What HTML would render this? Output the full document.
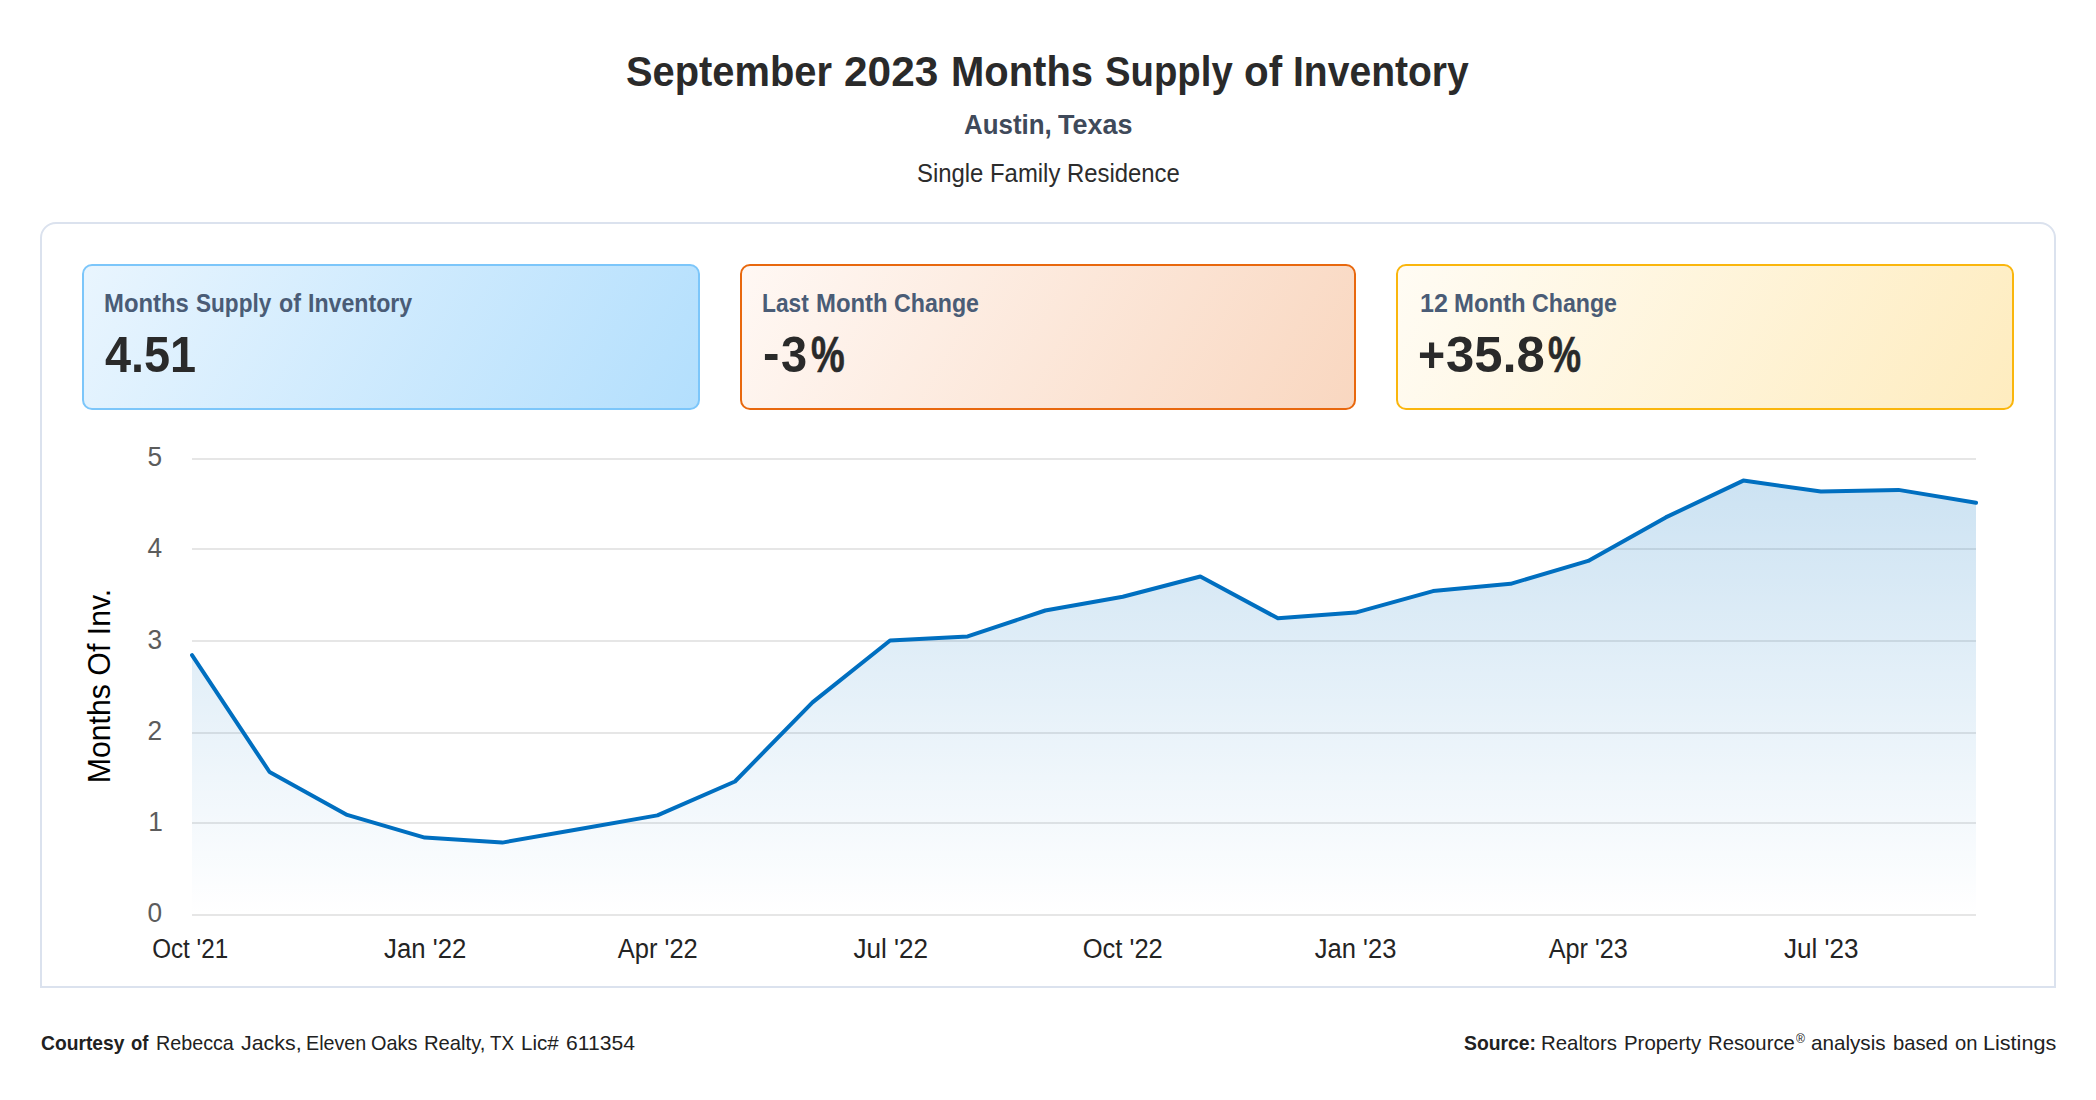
<!DOCTYPE html>
<html lang="en">
<head>
<meta charset="utf-8">
<title>September 2023 Months Supply of Inventory</title>
<style>
html,body{margin:0;padding:0;background:#fff;}
body{width:2096px;height:1100px;position:relative;overflow:hidden;font-family:"Liberation Sans", Arial, sans-serif;}
h1,h2,p,.label,.value{margin:0;padding:0;font-style:normal;}
.t{position:absolute;white-space:nowrap;line-height:normal;}
.w{display:inline-block;position:relative;white-space:pre;line-height:normal;transform-origin:0 0;margin:0;padding:0;font-weight:inherit;vertical-align:baseline;}
b.w{font-weight:700;}
.panel{position:absolute;left:40px;top:222px;width:2012px;height:762px;border:2px solid #dbe2ee;border-radius:16px 16px 0 0;background:#fff;}
.card{position:absolute;top:264px;height:142px;border:2px solid;border-radius:10px;}
.c1{left:82px;width:614px;border-color:#7cc6fa;background:linear-gradient(120deg,#e9f5fe 0%,#b3dffd 100%);}
.c2{left:740px;width:612px;border-color:#e8680e;background:linear-gradient(120deg,#fff8f4 0%,#f9d7c0 100%);}
.c3{left:1396px;width:614px;border-color:#fab60d;background:linear-gradient(120deg,#fffcf4 0%,#feecbf 100%);}
.chart{position:absolute;left:0;top:0;}
.chart text{font-family:"Liberation Sans", Arial, sans-serif;}
.yl text{font-size:26.8px;fill:#5c5c5c;}
.xl text{font-size:26.8px;fill:#242424;}
.yt{font-size:30.6px;fill:#000;}
h1{font-size:43px;font-weight:700;color:#2a2a2a;}
h2{font-size:28.2px;font-weight:700;color:#3f4a5a;}
.ptype{font-size:25.6px;font-weight:400;color:#2c2c2c;}
.label{font-size:25px;font-weight:700;color:#4a5c76;}
.value{font-size:50.6px;font-weight:700;color:#2a2a2a;}
footer p{font-size:21px;font-weight:400;color:#212121;}
</style>
</head>
<body>
<header>
<h1 class="t" style="left:626.37px;top:47.00px"><span class="w" style="width:218.14px;transform:scaleX(0.9264)">September </span><span class="w" style="width:106.73px;transform:scaleX(0.9857)">2023 </span><span class="w" style="width:153.67px;transform:scaleX(0.9291)">Months </span><span class="w" style="width:138.65px;transform:scaleX(0.8910)">Supply </span><span class="w" style="width:49.92px;transform:scaleX(0.9388)">of </span><span class="w" style="width:175.74px;transform:scaleX(0.9080)">Inventory </span></h1>
<h2 class="t" style="left:964.10px;top:107.80px"><span class="w" style="width:94.10px;transform:scaleX(0.9190)">Austin, </span><span class="w" style="width:74.45px;transform:scaleX(0.9565)">Texas </span></h2>
<p class="t ptype" style="left:916.67px;top:158.90px"><span class="w" style="width:262.85px;transform:scaleX(0.9332)">Single Family Residence </span></p>
</header>
<main>
<div class="panel"></div>
<section class="card c1"><div class="t label" style="left:20.05px;top:22.70px"><span class="w" style="width:91.95px;transform:scaleX(0.9544)">Months </span><span class="w" style="width:82.80px;transform:scaleX(0.9037)">Supply </span><span class="w" style="width:29.37px;transform:scaleX(0.9312)">of </span><span class="w" style="width:104.24px;transform:scaleX(0.9264)">Inventory </span></div><div class="t value" style="left:20.90px;top:59.00px"><span class="w" style="width:91.15px;transform:scaleX(0.9257)">4.51 </span></div></section>
<section class="card c2"><div class="t label" style="left:19.59px;top:22.70px"><span class="w" style="width:54.85px;transform:scaleX(0.9104)">Last </span><span class="w" style="width:77.53px;transform:scaleX(0.9561)">Month </span><span class="w" style="width:84.94px;transform:scaleX(0.9265)">Change </span></div><div class="t value" style="left:20.72px;top:59.00px"><span class="w" style="width:18.35px;transform:scaleX(0.9786);top:-2.40px">-</span><span class="w" style="width:29.58px;transform:scaleX(0.9269)">3</span><span class="w" style="width:33.69px;transform:scaleX(0.7488);-webkit-text-stroke:0.6px currentColor">% </span></div></section>
<section class="card c3"><div class="t label" style="left:21.50px;top:22.70px"><span class="w" style="width:34.65px;transform:scaleX(1.0037)">12 </span><span class="w" style="width:77.53px;transform:scaleX(0.9561)">Month </span><span class="w" style="width:84.94px;transform:scaleX(0.9265)">Change </span></div><div class="t value" style="left:20.06px;top:59.00px"><span class="w" style="width:28.23px;transform:scaleX(0.9192)">+</span><span class="w" style="width:101.67px;transform:scaleX(1.0038)">35.8</span><span class="w" style="width:33.06px;transform:scaleX(0.7349);-webkit-text-stroke:0.6px currentColor">% </span></div></section>
<svg class="chart" width="2096" height="1100" viewBox="0 0 2096 1100" role="img" aria-label="Months of inventory, Oct 2021 to Sep 2023">
<defs><linearGradient id="ag" gradientUnits="userSpaceOnUse" x1="0" y1="480.6" x2="0" y2="915"><stop offset="0" stop-color="#0070c0" stop-opacity="0.2"/><stop offset="1" stop-color="#0070c0" stop-opacity="0"/></linearGradient></defs>
<g class="grid">
<rect x="192" y="458" width="1784" height="2" fill="#e6e6e6"/>
<rect x="192" y="548" width="1784" height="2" fill="#e6e6e6"/>
<rect x="192" y="640" width="1784" height="2" fill="#e6e6e6"/>
<rect x="192" y="732" width="1784" height="2" fill="#e6e6e6"/>
<rect x="192" y="822" width="1784" height="2" fill="#e6e6e6"/>
<rect x="192" y="914" width="1784" height="2" fill="#e6e6e6"/>
</g>
<path class="area" d="M192.00 655.10 L269.57 772.00 L347.13 814.90 L424.70 837.60 L502.26 842.60 L579.83 829.00 L657.39 815.40 L734.96 781.50 L812.52 702.40 L890.09 640.50 L967.65 636.40 L1045.22 610.50 L1122.78 596.80 L1200.35 576.50 L1277.91 618.30 L1355.48 612.60 L1433.04 591.10 L1510.61 583.80 L1588.17 560.90 L1665.74 517.40 L1743.30 480.60 L1820.87 491.60 L1898.43 489.90 L1976.00 502.80 L1976.00 915.00 L192.00 915.00 Z" fill="url(#ag)"/>
<path class="line" d="M192.00 655.10 L269.57 772.00 L347.13 814.90 L424.70 837.60 L502.26 842.60 L579.83 829.00 L657.39 815.40 L734.96 781.50 L812.52 702.40 L890.09 640.50 L967.65 636.40 L1045.22 610.50 L1122.78 596.80 L1200.35 576.50 L1277.91 618.30 L1355.48 612.60 L1433.04 591.10 L1510.61 583.80 L1588.17 560.90 L1665.74 517.40 L1743.30 480.60 L1820.87 491.60 L1898.43 489.90 L1976.00 502.80" fill="none" stroke="#006fc0" stroke-width="4" stroke-linejoin="round" stroke-linecap="round"/>
<g class="yl">
<text x="147.4" y="466.2" textLength="14.6" lengthAdjust="spacingAndGlyphs">5</text>
<text x="147.4" y="557.4" textLength="14.6" lengthAdjust="spacingAndGlyphs">4</text>
<text x="147.4" y="648.6" textLength="14.6" lengthAdjust="spacingAndGlyphs">3</text>
<text x="147.4" y="739.8" textLength="14.6" lengthAdjust="spacingAndGlyphs">2</text>
<text x="148.2" y="831.0" textLength="14.6" lengthAdjust="spacingAndGlyphs">1</text>
<text x="147.4" y="922.2" textLength="14.6" lengthAdjust="spacingAndGlyphs">0</text>
</g>
<g class="xl">
<text x="152.20" y="957.7" textLength="75.92" lengthAdjust="spacingAndGlyphs">Oct '21</text>
<text x="384.10" y="957.7" textLength="82.27" lengthAdjust="spacingAndGlyphs">Jan '22</text>
<text x="617.80" y="957.7" textLength="79.96" lengthAdjust="spacingAndGlyphs">Apr '22</text>
<text x="853.40" y="957.7" textLength="74.58" lengthAdjust="spacingAndGlyphs">Jul '22</text>
<text x="1082.75" y="957.7" textLength="80.01" lengthAdjust="spacingAndGlyphs">Oct '22</text>
<text x="1314.80" y="957.7" textLength="81.56" lengthAdjust="spacingAndGlyphs">Jan '23</text>
<text x="1548.70" y="957.7" textLength="79.05" lengthAdjust="spacingAndGlyphs">Apr '23</text>
<text x="1784.00" y="957.7" textLength="74.58" lengthAdjust="spacingAndGlyphs">Jul '23</text>
</g>
<text class="yt" transform="translate(110 686) rotate(-90)" text-anchor="middle" textLength="194.5" lengthAdjust="spacingAndGlyphs">Months Of Inv.</text>
</svg>
</main>
<footer>
<p class="t courtesy" style="left:40.70px;top:1030.70px"><b class="w" style="width:90.50px;transform:scaleX(0.9174)">Courtesy </b><b class="w" style="width:24.56px;transform:scaleX(0.8786)">of </b><span class="w" style="width:85.34px;transform:scaleX(0.9391)">Rebecca </span><span class="w" style="width:64.66px;transform:scaleX(1.0177)">Jacks, </span><span class="w" style="width:65.59px;transform:scaleX(0.9387)">Eleven </span><span class="w" style="width:52.88px;transform:scaleX(0.9471)">Oaks </span><span class="w" style="width:65.76px;transform:scaleX(0.9628)">Realty, </span><span class="w" style="width:30.72px;transform:scaleX(0.8946)">TX </span><span class="w" style="width:45.47px;transform:scaleX(0.9777)">Lic# </span><span class="w" style="width:68.88px;transform:scaleX(1.0053)">611354 </span></p>
<p class="t source" style="left:1464.20px;top:1030.70px"><b class="w" style="width:76.83px;transform:scaleX(0.9213)">Source: </b><span class="w" style="width:82.50px;transform:scaleX(0.9714)">Realtors </span><span class="w" style="width:84.71px;transform:scaleX(0.9713)">Property </span><span class="w" style="width:87.67px;transform:scaleX(0.9660)">Resource</span><span class="w" style="width:15.20px;transform:scaleX(1.0111);font-size:12px;top:-7.10px">® </span><span class="w" style="width:81.54px;transform:scaleX(0.9832)">analysis </span><span class="w" style="width:62.06px;transform:scaleX(0.9615)">based </span><span class="w" style="width:27.97px;transform:scaleX(0.9612)">on </span><span class="w" style="width:73.24px;transform:scaleX(1.0286)">Listings </span></p>
</footer>
</body>
</html>
